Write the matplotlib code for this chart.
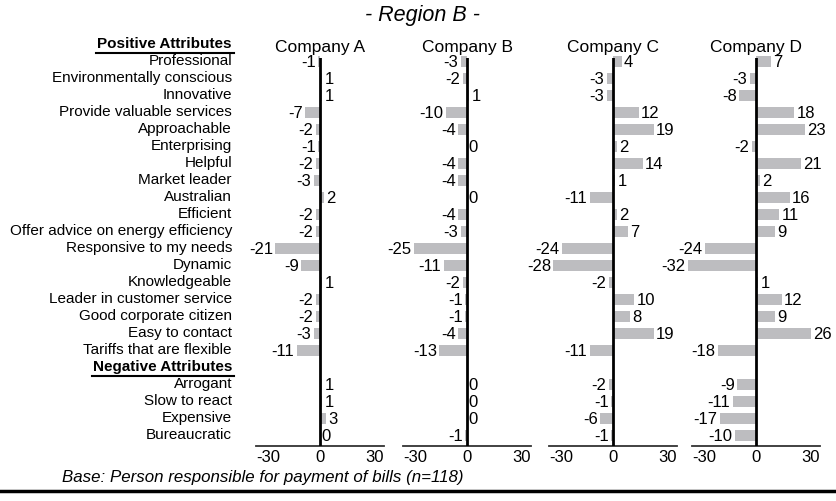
import numpy as np
import matplotlib.pyplot as plt
import matplotlib.transforms as mtransforms

plt.rcParams['font.family'] = ['Liberation Sans', 'DejaVu Sans']

positive = ['Professional', 'Environmentally conscious', 'Innovative',
            'Provide valuable services', 'Approachable', 'Enterprising',
            'Helpful', 'Market leader', 'Australian', 'Efficient',
            'Offer advice on energy efficiency', 'Responsive to my needs',
            'Dynamic', 'Knowledgeable', 'Leader in customer service',
            'Good corporate citizen', 'Easy to contact',
            'Tariffs that are flexible']
negative = ['Arrogant', 'Slow to react', 'Expensive', 'Bureaucratic']

companies = ['Company A', 'Company B', 'Company C', 'Company D']

company_a = [-1, 1, 1, -7, -2, -1, -2, -3, 2, -2, -2, -21, -9, 1, -2, -2, -3, -11,
             1, 1, 3, 0]
company_b = [-3, -2, 1, -10, -4, 0, -4, -4, 0, -4, -3, -25, -11, -2, -1, -1, -4, -13,
             0, 0, 0, -1]
company_c = [4, -3, -3, 12, 19, 2, 14, 1, -11, 2, 7, -24, -28, -2, 10, 8, 19, -11,
             -2, -1, -6, -1]
company_d = [7, -3, -8, 18, 23, -2, 21, 2, 16, 11, 9, -24, -32, 1, 12, 9, 26, -18,
             -9, -11, -17, -10]
values = [company_a, company_b, company_c, company_d]

# row positions: header rows at 0 and 19
pos_rows = np.arange(1, len(positive) + 1)
neg_rows = np.arange(len(positive) + 2, len(positive) + 2 + len(negative))
rows = np.concatenate([pos_rows, neg_rows])

W, H = 837, 502
fig = plt.figure(figsize=(W / 100, H / 100), dpi=100)

zeros_px = [320, 467, 613, 756]
ax_w = 145
top_px, bot_px = 59, 447
bar_color = '#bdbdc0'

axes = []
for zx, name, vals in zip(zeros_px, companies, values):
    ax = fig.add_axes([(zx - ax_w / 2) / W, 1 - bot_px / H, ax_w / W, (bot_px - top_px) / H])
    ax.set_xlim(-34, 34)
    ax.set_ylim(23.7, 0.88)
    ax.patch.set_visible(False)
    for s in ['top', 'right', 'left']:
        ax.spines[s].set_visible(False)
    ax.spines['bottom'].set_bounds(-30, 30)
    ax.spines['bottom'].set_linewidth(1.3)
    ax.spines['bottom'].set_color('#333333')
    ax.set_yticks([])
    ax.set_xticks([-30, 0, 30])
    ax.set_xticklabels(['-30', '0', '30'])
    ax.tick_params(axis='x', length=0, labelsize=12, pad=2)
    tl = ax.get_xticklabels()
    tl[0].set_horizontalalignment('left')
    tl[2].set_horizontalalignment('right')

    ax.barh(rows + 0.08, vals, height=0.62, color=bar_color, clip_on=False, zorder=2)
    ax.axvline(0, color='black', lw=2, zorder=3)

    for r, v in zip(rows, vals):
        if v < 0:
            ax.text(v - 1.0, r + 0.08, str(v), ha='right', va='center', fontsize=12)
        elif v > 0:
            ax.text(v + 1.0, r + 0.08, str(v), ha='left', va='center', fontsize=12)
        else:
            ax.text(0.6, r + 0.08, str(v), ha='left', va='center', fontsize=12)

    ax.text(0, 0.2, name, ha='center', va='center', fontsize=12.5, clip_on=False)
    axes.append(ax)

ax0 = axes[0]
trans = mtransforms.blended_transform_factory(fig.transFigure, ax0.transData)
lab_x = 232 / W
for r, lab in zip(rows, positive + negative):
    ax0.text(lab_x, r, lab, transform=trans, ha='right', va='center', fontsize=11, clip_on=False)

renderer = fig.canvas.get_renderer()
for r, lab in [(0, 'Positive Attributes'), (len(positive) + 1, 'Negative Attributes')]:
    t = ax0.text(lab_x, r, lab, transform=trans, ha='right', va='center', fontsize=11,
                 fontweight='bold', clip_on=False)
    bb = t.get_window_extent(renderer)
    x0 = bb.x0 / W
    ax0.plot([x0 - 1 / W, lab_x + 2 / W], [r + 0.56, r + 0.56], transform=trans, color='black',
             lw=1.5, clip_on=False)

fig.text(422 / W, 1 - 15 / H, '- Region B -', ha='center', va='center', fontsize=15.5, style='italic')
fig.text(62 / W, 1 - 478 / H, 'Base: Person responsible for payment of bills (n=118)',
         ha='left', va='center', fontsize=12.2, style='italic')
fig.add_artist(plt.Line2D([0, 1], [1 - 492 / H, 1 - 492 / H], transform=fig.transFigure,
                          color='black', lw=2.5))

fig.savefig('out.png', dpi=100)
